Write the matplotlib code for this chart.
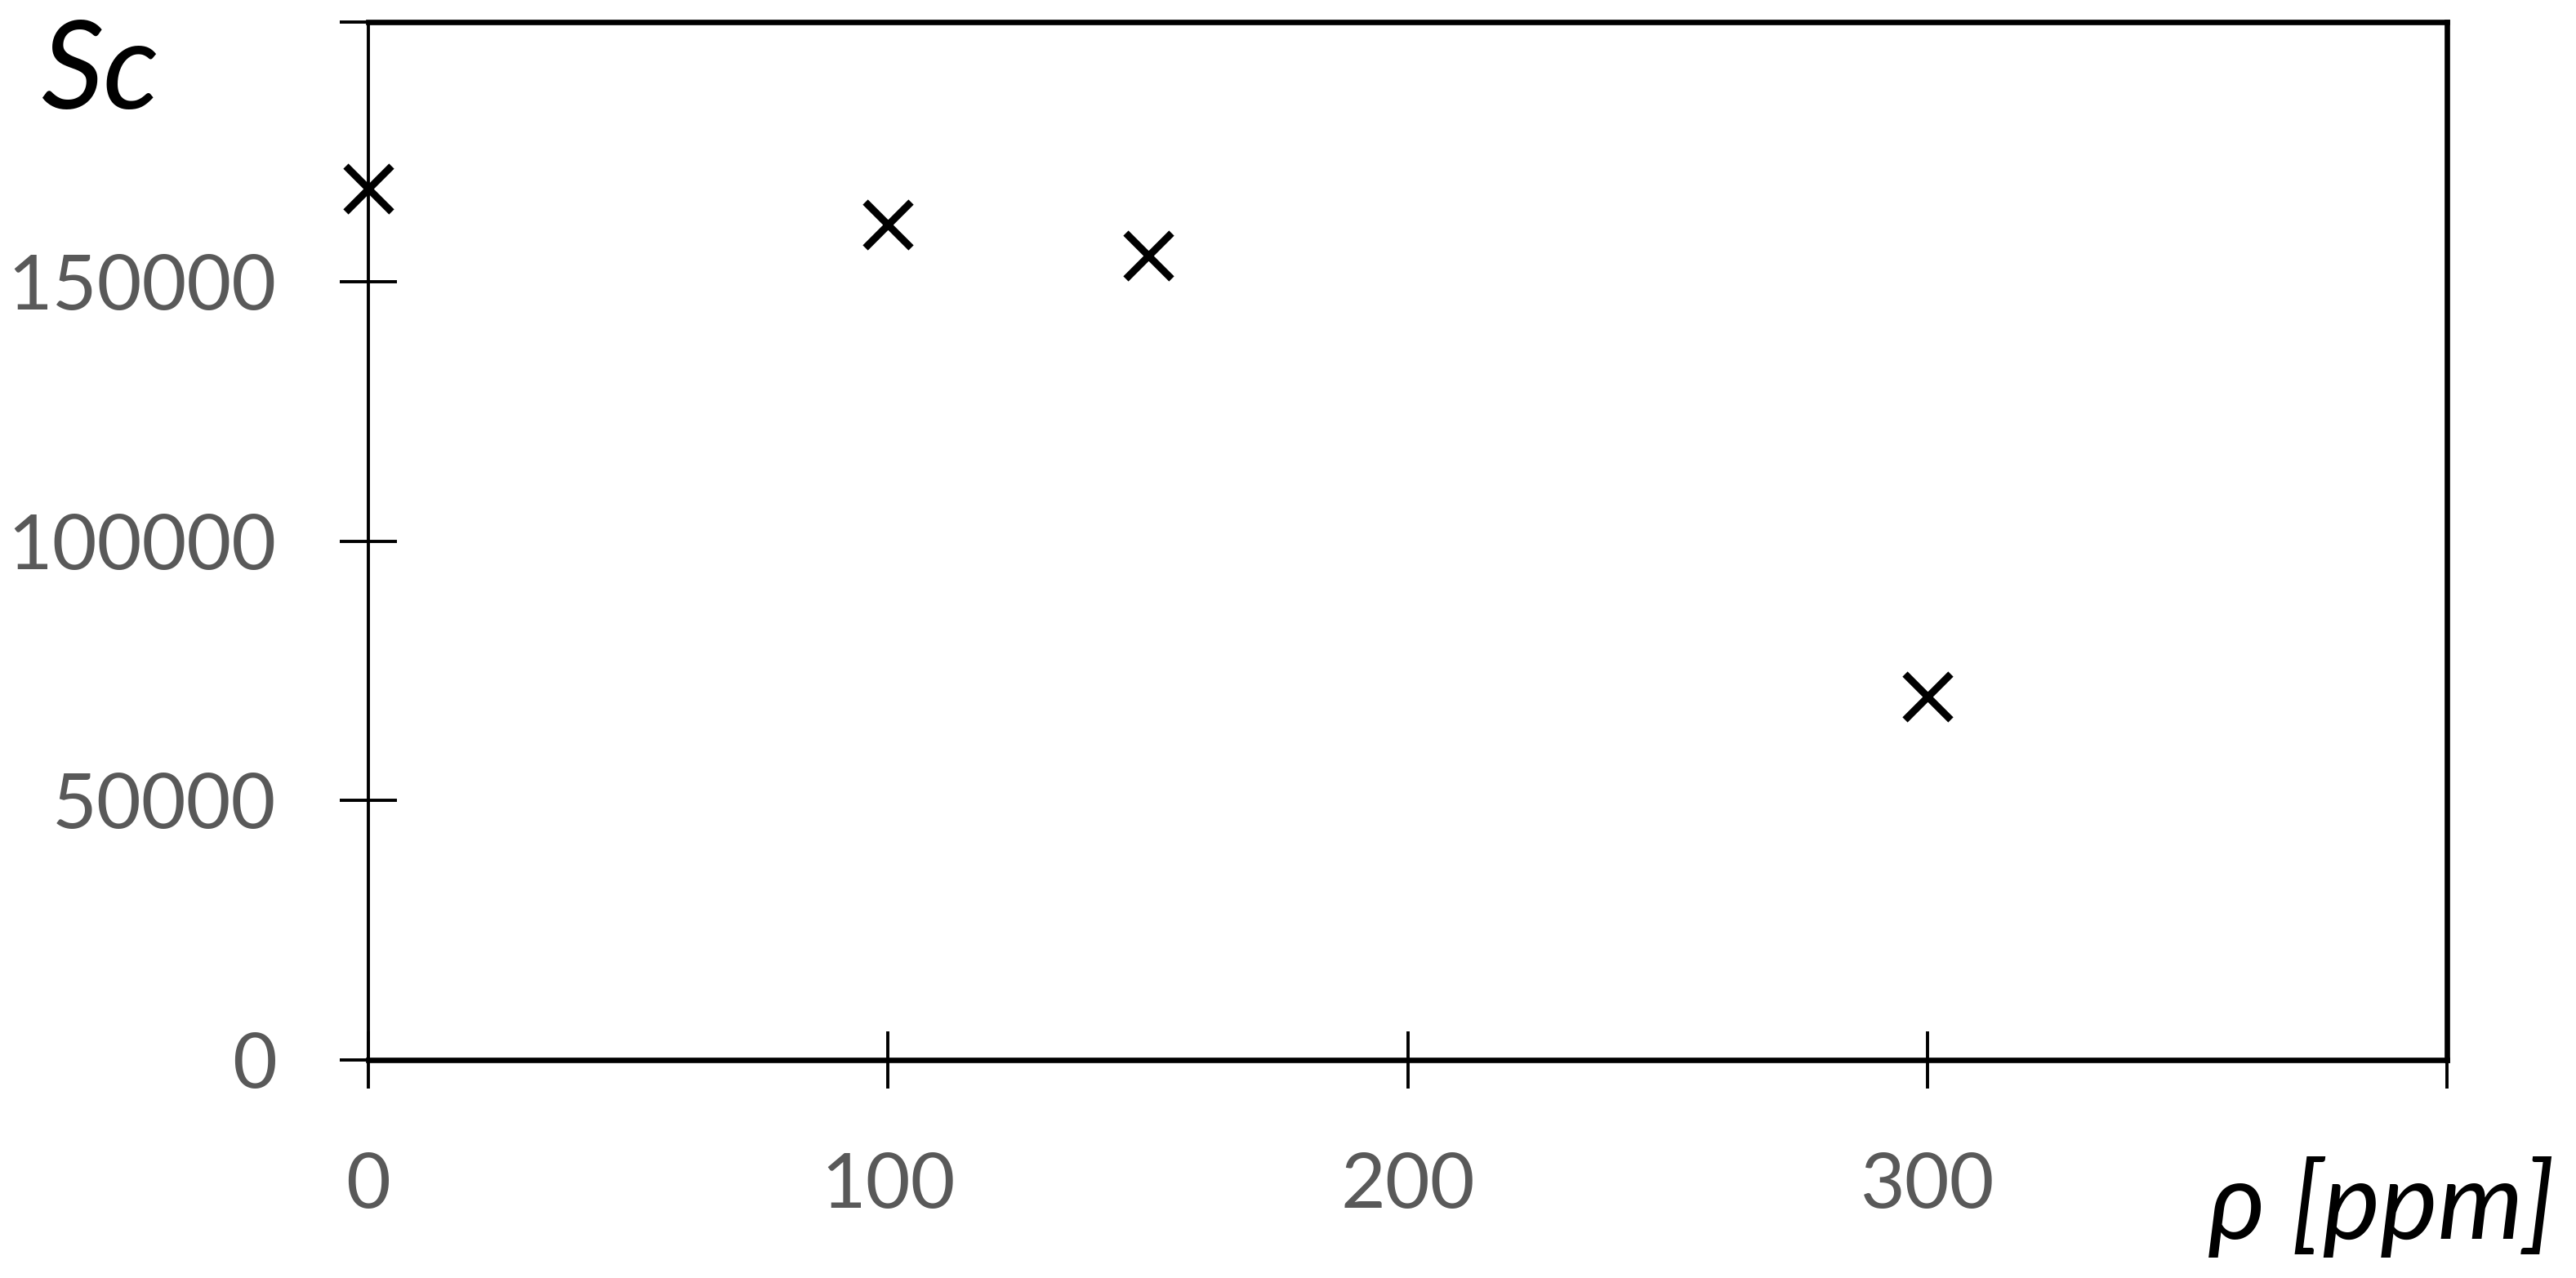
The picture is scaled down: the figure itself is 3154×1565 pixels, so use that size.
import matplotlib
matplotlib.use("Agg")
import matplotlib.pyplot as plt

# data
conc_ppm = [0, 100, 150, 300]
sc_vals = [168000, 161000, 155000, 70000]

x_ticks = [0, 100, 200, 300, 400]
x_labels = ["0", "100", "200", "300", ""]
y_ticks = [0, 50000, 100000, 150000, 200000]
y_labels = ["0", "50000", "100000", "150000", ""]

plt.rcParams['font.family'] = ['Lato', 'DejaVu Sans']

fig = plt.figure(figsize=(15.77, 7.825), dpi=200)
ax = fig.add_axes([0.143, 0.1706, 0.807, 0.812])

ax.plot(conc_ppm, sc_vals, linestyle='none', marker='x', color='black',
        markersize=20, markeredgewidth=3.2, clip_on=False, zorder=5)

ax.set_xlim(0, 400)
ax.set_ylim(0, 200000)
ax.set_xticks(x_ticks)
ax.set_xticklabels(x_labels)
ax.set_yticks(y_ticks)
ax.set_yticklabels(y_labels)

for side in ['top', 'right', 'bottom']:
    ax.spines[side].set_linewidth(2.4)
ax.spines['left'].set_linewidth(1.4)

ax.tick_params(axis='both', direction='inout', length=25, width=1.4,
               color='black', labelcolor='#595959', labelsize=34, pad=28)

fig.text(0.016, 0.942, "Sc", fontsize=54, style='italic', ha='left', va='center')
fig.text(0.992, 0.0556, "ρ [ppm]", fontsize=48, style='italic', ha='right', va='center')

fig.savefig("out.png", dpi=200)
